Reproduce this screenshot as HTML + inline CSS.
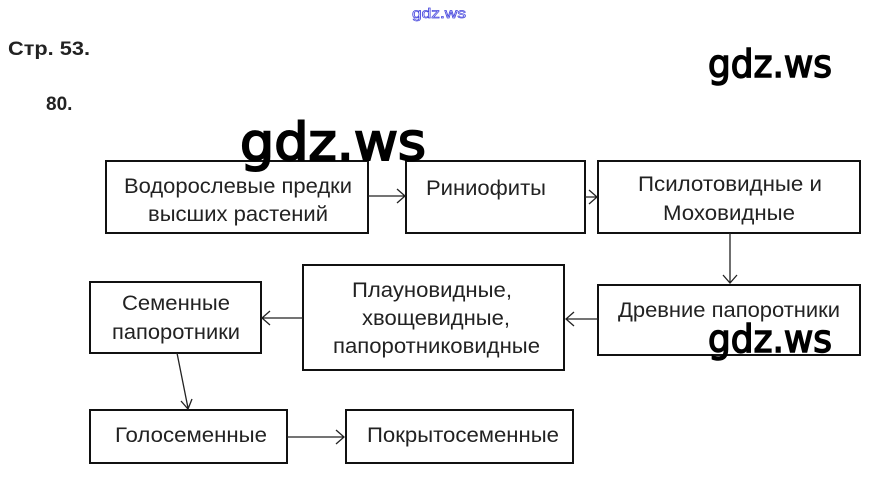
<!DOCTYPE html>
<html><head><meta charset="utf-8"><style>
html,body{margin:0;padding:0;background:#fff;width:877px;height:482px;overflow:hidden}
svg{display:block}
text{font-family:"Liberation Sans",Arial,sans-serif}
.t{font-size:21px;fill:#222}
.w{font-family:"DejaVu Sans","Liberation Sans",sans-serif;fill:#000;stroke:#000}
</style></head><body>
<svg width="877" height="482" viewBox="0 0 877 482" xmlns="http://www.w3.org/2000/svg">
<g fill="none" stroke="#111" stroke-width="2">
<rect x="106" y="161" width="262" height="72"/>
<rect x="406" y="161" width="179" height="72"/>
<rect x="598" y="161" width="262" height="72"/>
<rect x="598" y="285" width="262" height="70"/>
<rect x="303" y="265" width="261" height="105"/>
<rect x="90" y="282" width="171" height="71"/>
<rect x="90" y="410" width="197" height="53"/>
<rect x="346" y="410" width="227" height="53"/>
</g>
<g fill="none" stroke="#222" stroke-width="1.3">
<path d="M368 196H405M397 189L405 196L397 203"/>
<path d="M585 197H597M589 190L597 197L589 204"/>
<path d="M730 233V283M723 275L730 283L737 275"/>
<path d="M598 319H566M574 312L566 319L574 326"/>
<path d="M303 318H262M270 311L262 318L270 325"/>
<path d="M177 353L188 408M181 401L188 409L192 399"/>
<path d="M287 437H344M336 430L344 437L336 444"/>
</g>
<g class="t">
<text x="124" y="193" textLength="228" lengthAdjust="spacingAndGlyphs">Водорослевые предки</text>
<text x="148" y="221" textLength="180" lengthAdjust="spacingAndGlyphs">высших растений</text>
<text x="426" y="195" textLength="120" lengthAdjust="spacingAndGlyphs">Риниофиты</text>
<text x="638" y="191" textLength="184" lengthAdjust="spacingAndGlyphs">Псилотовидные и</text>
<text x="663" y="220" textLength="132" lengthAdjust="spacingAndGlyphs">Моховидные</text>
<text x="618" y="317" textLength="222" lengthAdjust="spacingAndGlyphs">Древние папоротники</text>
<text x="352" y="297" textLength="160" lengthAdjust="spacingAndGlyphs">Плауновидные,</text>
<text x="362" y="325" textLength="148" lengthAdjust="spacingAndGlyphs">хвощевидные,</text>
<text x="333" y="353" textLength="207" lengthAdjust="spacingAndGlyphs">папоротниковидные</text>
<text x="122" y="310" textLength="108" lengthAdjust="spacingAndGlyphs">Семенные</text>
<text x="112" y="339" textLength="128" lengthAdjust="spacingAndGlyphs">папоротники</text>
<text x="115" y="442" textLength="152" lengthAdjust="spacingAndGlyphs">Голосеменные</text>
<text x="367" y="442" textLength="192" lengthAdjust="spacingAndGlyphs">Покрытосеменные</text>
</g>
<text x="8" y="55" font-size="19" font-weight="bold" fill="#222" textLength="82" lengthAdjust="spacingAndGlyphs">Стр. 53.</text>
<text x="46" y="110" font-size="19" font-weight="bold" fill="#222">80.</text>
<text x="412" y="18" font-size="14" fill="none" stroke="#4444dd" stroke-width="0.7" textLength="54" lengthAdjust="spacingAndGlyphs">gdz.ws</text>
<text class="w" x="240" y="160" font-size="52" stroke-width="2" textLength="186" lengthAdjust="spacingAndGlyphs">gdz.ws</text>
<text class="w" x="708" y="77" font-size="38" stroke-width="1.5" textLength="124" lengthAdjust="spacingAndGlyphs">gdz.ws</text>
<text class="w" x="708" y="352" font-size="38" stroke-width="1.5" textLength="124" lengthAdjust="spacingAndGlyphs">gdz.ws</text>
</svg>
</body></html>
